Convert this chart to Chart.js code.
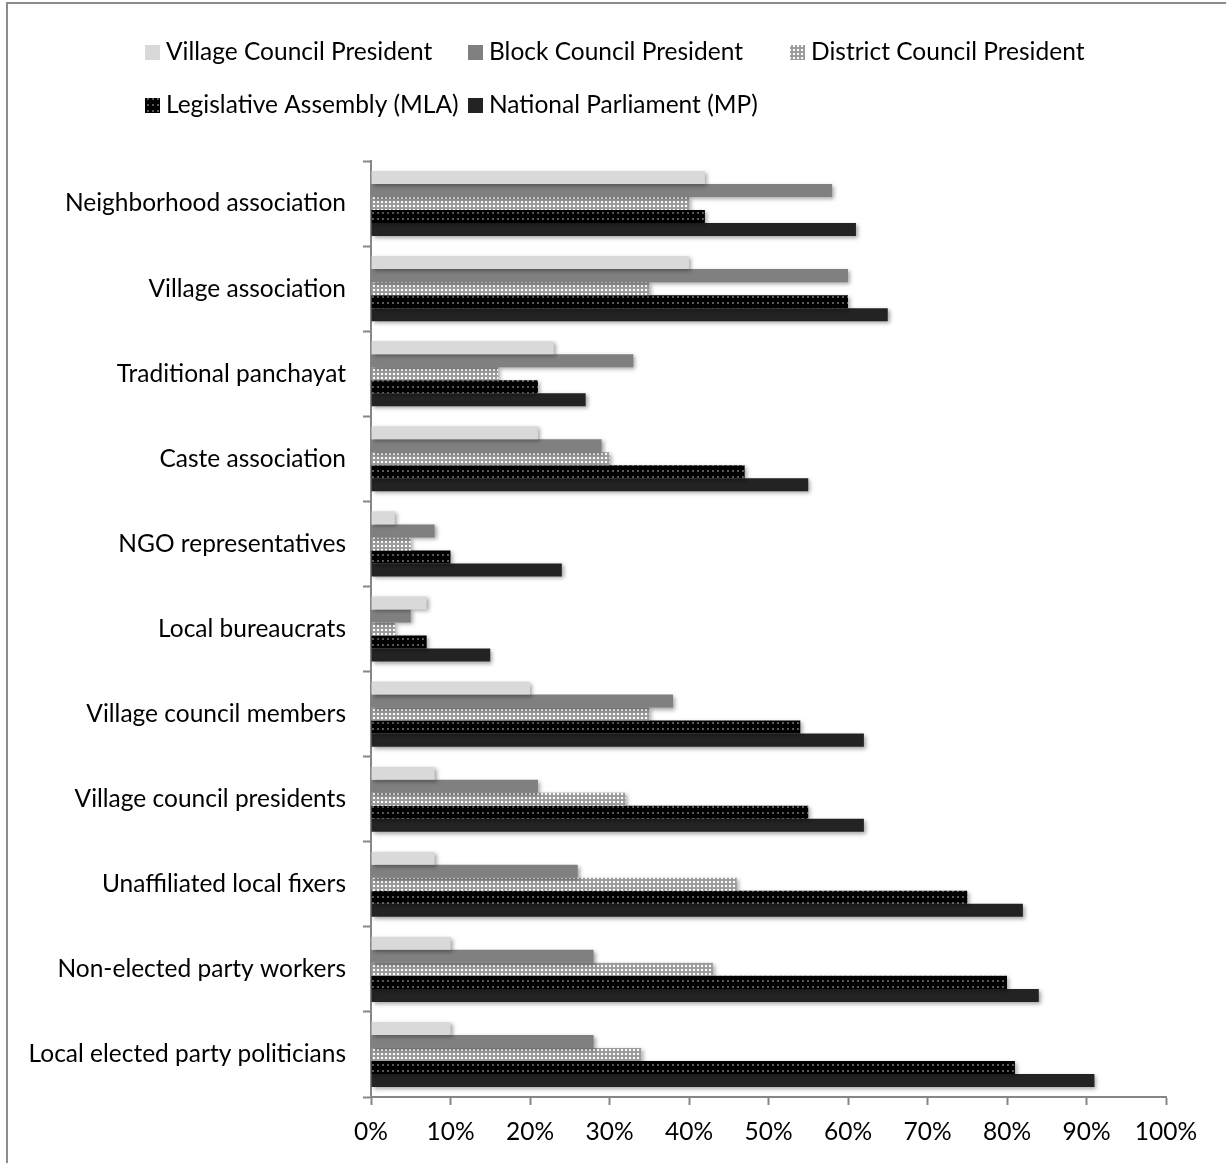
<!DOCTYPE html>
<html>
<head>
<meta charset="utf-8">
<script src="https://cdn.jsdelivr.net/npm/chart.js@4.4.1/dist/chart.umd.min.js"></script>
<style>
  html, body { margin: 0; padding: 0; background: #fff; }
  #wrap { position: relative; width: 1226px; height: 1163px; }
  #frame { position: absolute; left: 6px; top: 2px; right: 0; bottom: 0;
           border-left: 2px solid #8c8c8c; border-top: 2px solid #8c8c8c; }
  canvas { position: absolute; left: 0; top: 0; }
</style>
</head>
<body>
<div id="wrap">
  <div id="frame"></div>
  <canvas id="chart" width="1226" height="1163"></canvas>
</div>
<script>
const categories = [
  'Neighborhood association',
  'Village association',
  'Traditional panchayat',
  'Caste association',
  'NGO representatives',
  'Local bureaucrats',
  'Village council members',
  'Village council presidents',
  'Unaffiliated local fixers',
  'Non-elected party workers',
  'Local elected party politicians'
]

const seriesNames = [
  'Village Council President',
  'Block Council President',
  'District Council President',
  'Legislative Assembly (MLA)',
  'National Parliament (MP)'
]

const villagePres  = [42, 40, 23, 21, 3, 7, 20, 8, 8, 10, 10]
const blockPres    = [58, 60, 33, 29, 8, 5, 38, 21, 26, 28, 28]
const districtPres = [40, 35, 16, 30, 5, 3, 35, 32, 46, 43, 34]
const mla          = [42, 60, 21, 47, 10, 7, 54, 55, 75, 80, 81]
const mp           = [61, 65, 27, 55, 24, 15, 62, 62, 82, 84, 91]

const xTicks = [0, 10, 20, 30, 40, 50, 60, 70, 80, 90, 100]

const FONT = 'Lato'
const FONT_SIZE = 24.5

// little pattern tiles for the two textured series
function makePattern(w, h, paint) {
  const c = document.createElement('canvas')
  c.width = w
  c.height = h
  paint(c.getContext('2d'))
  return document.createElement('canvas').getContext('2d').createPattern(c, 'repeat')
}

const checkPattern = makePattern(4, 4, g => {
  g.fillStyle = '#9c9c9c'
  g.fillRect(0, 0, 4, 4)
  g.fillStyle = '#ffffff'
  g.fillRect(1, 1, 2, 2)
})

const dotPattern = makePattern(5, 6, g => {
  g.fillStyle = '#000000'
  g.fillRect(0, 0, 5, 6)
  g.fillStyle = '#5a5a5a'
  g.fillRect(2, 2, 2, 2)
})

const fills = ['#d9d9d9', '#808080', checkPattern, dotPattern, '#232323']
const values = [villagePres, blockPres, districtPres, mla, mp]

const shadowPlugin = {
  id: 'barShadow',
  beforeDatasetsDraw(chart) {
    const ctx = chart.ctx
    ctx.save()
    ctx.shadowColor = 'rgba(0,0,0,0.35)'
    ctx.shadowBlur = 4
    ctx.shadowOffsetX = 2
    ctx.shadowOffsetY = 2
  },
  afterDatasetsDraw(chart) {
    chart.ctx.restore()
  }
}

// legend laid out in fixed columns like the original
const legendPlugin = {
  id: 'gridLegend',
  afterDraw(chart) {
    const ctx = chart.ctx
    const cols = [145, 468, 790]
    const rows = [52, 105]
    ctx.save()
    ctx.font = FONT_SIZE + 'px ' + FONT
    ctx.textBaseline = 'middle'
    seriesNames.forEach((name, i) => {
      const x = cols[i % 3]
      const y = rows[Math.floor(i / 3)]
      ctx.fillStyle = fills[i]
      ctx.fillRect(x, y - 7, 15, 15)
      ctx.fillStyle = '#000'
      ctx.fillText(name, x + 21, y)
    })
    ctx.restore()
  }
}

new Chart(document.getElementById('chart'), {
  type: 'bar',
  data: {
    labels: categories,
    datasets: seriesNames.map((name, i) => ({
      label: name,
      data: values[i],
      backgroundColor: fills[i],
      borderWidth: 0,
      categoryPercentage: 0.765,
      barPercentage: 1.0
    }))
  },
  options: {
    indexAxis: 'y',
    responsive: false,
    animation: false,
    layout: { padding: { top: 161, right: 60, left: 0, bottom: 0 } },
    plugins: {
      legend: { display: false },
      tooltip: { enabled: false }
    },
    scales: {
      x: {
        min: 0,
        max: 100,
        afterBuildTicks(scale) {
          scale.ticks = xTicks.map(v => ({ value: v }))
        },
        afterFit(scale) { scale.height = 66 },
        ticks: {
          color: '#000',
          font: { family: FONT, size: FONT_SIZE },
          padding: 12,
          callback: v => v + '%'
        },
        grid: {
          drawOnChartArea: false,
          tickLength: 8,
          tickColor: '#868686',
          tickWidth: 2
        },
        border: { color: '#868686', width: 2 }
      },
      y: {
        afterFit(scale) { scale.width = 371 },
        ticks: {
          color: '#000',
          font: { family: FONT, size: FONT_SIZE },
          padding: 17
        },
        grid: {
          offset: true,
          drawOnChartArea: false,
          tickLength: 8,
          tickColor: '#868686',
          tickWidth: 2
        },
        border: { color: '#868686', width: 2 }
      }
    }
  },
  plugins: [shadowPlugin, legendPlugin]
})
</script>
</body>
</html>
